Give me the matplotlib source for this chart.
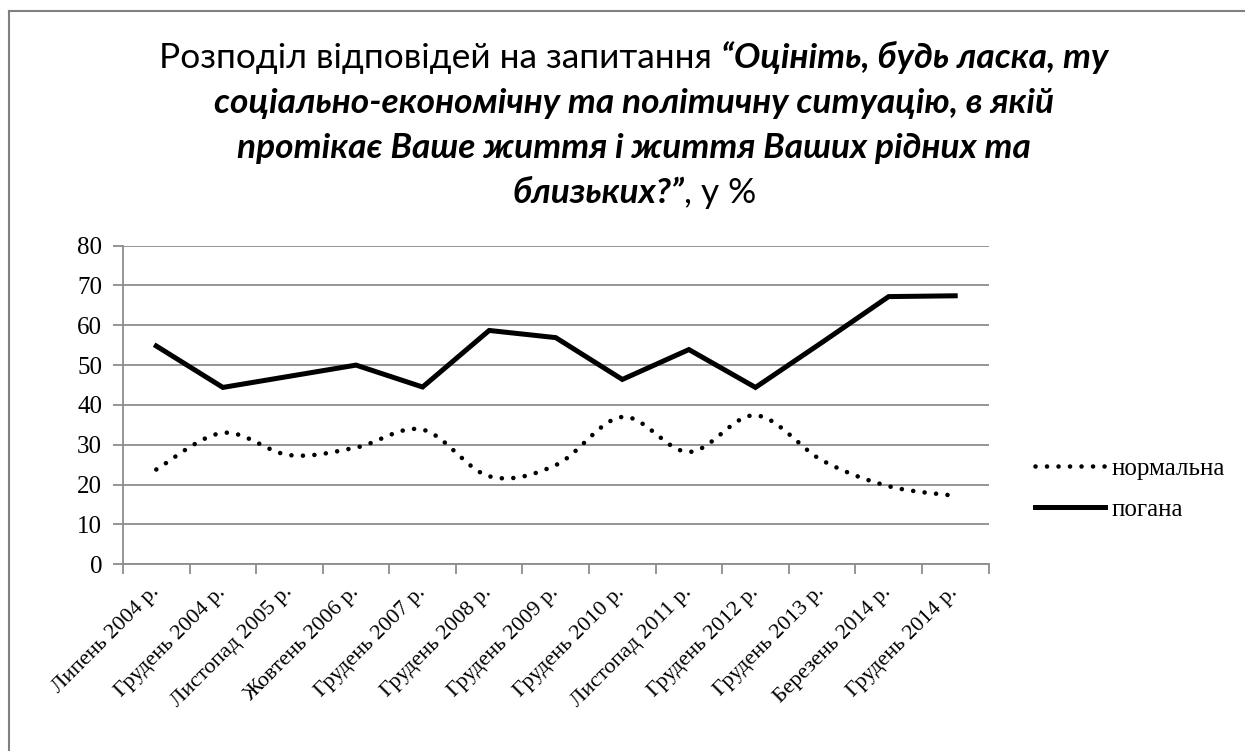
import numpy as np
import matplotlib
matplotlib.use("Agg")
import matplotlib.pyplot as plt
from matplotlib.lines import Line2D

categories = ["Липень 2004 р.", "Грудень 2004 р.", "Листопад 2005 р.", "Жовтень 2006 р.",
              "Грудень 2007 р.", "Грудень 2008 р.", "Грудень 2009 р.", "Грудень 2010 р.",
              "Листопад 2011 р.", "Грудень 2012 р.", "Грудень 2013 р.", "Березень 2014 р.",
              "Грудень 2014 р."]
normalna = [23.8, 33.0, 27.4, 29.3, 33.8, 22.1, 24.9, 37.0, 28.2, 37.4, 26.1, 19.6, 17.2]
pohana = [54.8, 44.4, 47.2, 50.0, 44.5, 58.7, 56.9, 46.4, 53.9, 44.4, 55.7, 67.2, 67.4]
yticks = [0, 10, 20, 30, 40, 50, 60, 70, 80]
series_labels = ["нормальна", "погана"]

title_lines = [
    [("Розподіл відповідей на запитання ", "normal"), ("“Оцініть, будь ласка, ту", "bi")],
    [("соціально-економічну та політичну ситуацію, в якій", "bi")],
    [("протікає Ваше життя і життя Ваших рідних та", "bi")],
    [("близьких?”", "bi"), (", у %", "normal")],
]

W, H = 1245, 751
fig = plt.figure(figsize=(W / 100, H / 100), dpi=100)
fig.patch.set_facecolor("white")

serif = ["Liberation Serif", "DejaVu Serif"]
sans = ["Lato", "Open Sans", "DejaVu Sans"]

ax = fig.add_axes([123 / W, 1 - 564.3 / H, (988.5 - 123) / W, (564.3 - 245.6) / H])


def catmull_rom(y, n=24):
    y = np.asarray(y, float)
    x = np.arange(len(y), dtype=float)
    P = np.column_stack([x, y])
    P = np.vstack([P[0], P, P[-1]])
    out = []
    for i in range(1, len(P) - 2):
        p0, p1, p2, p3 = P[i - 1], P[i], P[i + 1], P[i + 2]
        t = np.linspace(0, 1, n, endpoint=(i == len(P) - 3))[:, None]
        pts = 0.5 * ((2 * p1) + (-p0 + p2) * t + (2 * p0 - 5 * p1 + 4 * p2 - p3) * t ** 2
                     + (-p0 + 3 * p1 - 3 * p2 + p3) * t ** 3)
        out.append(pts)
    out = np.vstack(out)
    return out[:, 0], out[:, 1]

xs = np.arange(len(categories))
sx, sy = catmull_rom(normalna)
ax.plot(sx, sy, color="black", lw=3.3, linestyle=(0, (0.01, 2.5)),
        dash_capstyle="round", label=series_labels[0], zorder=3)
ax.plot(xs, pohana, color="black", lw=3.6, solid_joinstyle="miter",
        label=series_labels[1], zorder=3)

ax.set_xlim(-0.5, len(categories) - 0.5)
ax.set_ylim(0, 80)
ax.set_yticks(yticks)
ax.set_yticklabels([str(v) for v in yticks], fontfamily=serif, fontsize=18)
ax.grid(axis="y", color="#8c8c8c", lw=1.3)
ax.set_axisbelow(True)
for s in ["top", "right"]:
    ax.spines[s].set_visible(False)
ax.spines["left"].set_color("#8c8c8c")
ax.spines["left"].set_linewidth(1.3)
ax.spines["bottom"].set_color("#8c8c8c")
ax.spines["bottom"].set_linewidth(1.3)
ax.tick_params(axis="y", length=7, width=1.3, color="#8c8c8c", pad=8)

ax.set_xticks(xs)
ax.set_xticks(np.arange(-0.5, len(categories)), minor=True)
ax.tick_params(axis="x", which="major", length=0, pad=18)
ax.tick_params(axis="x", which="minor", length=7, width=1.3, color="#8c8c8c")
ax.set_xticklabels(categories, rotation=45, ha="right", va="center",
                   rotation_mode="anchor", fontfamily=serif, fontsize=16)

leg = ax.legend(loc="center left", bbox_to_anchor=(1022 / W, 1 - 489 / H),
                bbox_transform=fig.transFigure, frameon=False,
                prop={"family": serif, "size": 18}, handlelength=2.8,
                handletextpad=0.3, labelspacing=0.75, borderpad=0)

# border lines (top and left)
fig.add_artist(Line2D([9 / W, 1.0], [1 - 11 / H, 1 - 11 / H], transform=fig.transFigure,
                      color="#808080", lw=1.5))
fig.add_artist(Line2D([9 / W, 9 / W], [0, 1 - 11 / H], transform=fig.transFigure,
                      color="#808080", lw=1.5))

# title with mixed styles
fig.canvas.draw()
renderer = fig.canvas.get_renderer()
title_size = 25.4
center_x = 634
baselines = [68, 113, 158, 203]
styles = {"normal": dict(fontweight="normal", fontstyle="normal"),
          "bi": dict(fontweight="bold", fontstyle="italic")}
for parts, yb in zip(title_lines, baselines):
    widths = []
    for txt, st in parts:
        t = fig.text(0, 0, txt.replace(" ", "\u00a0"), fontsize=title_size, family=sans, **styles[st])
        widths.append(t.get_window_extent(renderer).width)
        t.remove()
    x = center_x - sum(widths) / 2
    for (txt, st), w in zip(parts, widths):
        fig.text(x / W, 1 - yb / H, txt.replace(" ", "\u00a0"), fontsize=title_size, family=sans,
                 ha="left", va="baseline", **styles[st])
        x += w

fig.savefig("out.png", dpi=100, facecolor="white")
